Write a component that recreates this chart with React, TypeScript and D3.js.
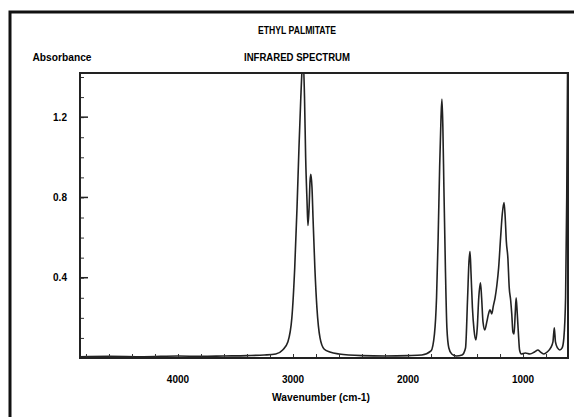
import React, { useEffect, useRef } from "react";
import * as d3 from "d3";

// wavenumber (cm-1), high -> low
const wavenumbers = [
  4850, 4600, 4300, 4000, 3800, 3600, 3400, 3250, 3150, 3090, 3045, 3010, 2985, 2965, 2948, 2932,
  2920, 2912, 2900, 2890, 2878, 2870, 2860, 2852, 2845, 2835, 2826, 2810, 2792, 2765, 2730, 2680,
  2600, 2400, 2200, 2000, 1880, 1800, 1770, 1752, 1738, 1725, 1713, 1705, 1697, 1688, 1675, 1662,
  1645, 1620, 1580, 1530, 1500, 1482, 1470, 1461, 1452, 1440, 1426, 1410, 1398, 1385, 1370, 1360,
  1348, 1332, 1315, 1300, 1287, 1272, 1258, 1243, 1228, 1212, 1195, 1180, 1165, 1155, 1145, 1132,
  1120, 1108, 1098, 1088, 1078, 1068, 1060, 1050, 1040, 1030, 1015, 980, 940, 900, 870, 850,
  820, 790, 760, 740, 728, 718, 700, 680, 660, 645, 630, 620, 612,
];
const absorbance = [
  0.006, 0.008, 0.006, 0.01, 0.008, 0.01, 0.012, 0.015, 0.02, 0.04, 0.08, 0.2, 0.45, 0.75, 1.05, 1.3,
  1.45, 1.5, 1.3, 1.0, 0.78, 0.66, 0.75, 0.88, 0.915, 0.85, 0.7, 0.45, 0.25, 0.1, 0.045, 0.03,
  0.02, 0.012, 0.01, 0.012, 0.015, 0.035, 0.12, 0.3, 0.6, 0.95, 1.2, 1.29, 1.15, 0.85, 0.45, 0.15,
  0.05, 0.02, 0.01, 0.015, 0.05, 0.3, 0.48, 0.53, 0.42, 0.25, 0.14, 0.09, 0.15, 0.3, 0.375, 0.3,
  0.18, 0.14, 0.18, 0.22, 0.24, 0.22, 0.26, 0.3, 0.36, 0.45, 0.6, 0.72, 0.775, 0.7, 0.58, 0.5,
  0.35, 0.29, 0.22, 0.13, 0.12, 0.22, 0.3, 0.22, 0.12, 0.04, 0.02, 0.025, 0.02, 0.03, 0.04, 0.03,
  0.02, 0.03, 0.05, 0.08, 0.15, 0.08, 0.05, 0.04, 0.05, 0.1, 0.3, 0.8, 1.5,
];
const xTickLabels = [4000, 3000, 2000, 1000];
const yTickLabels = [0.4, 0.8, 1.2];

const FONT = "'Liberation Sans', Arial, sans-serif";

export default function App() {
  const ref = useRef<SVGSVGElement>(null);

  useEffect(() => {
    const width = 574;
    const height = 417;
    const margin = { top: 73, right: 6, bottom: 59, left: 80 };
    const innerWidth = width - margin.left - margin.right;
    const innerHeight = height - margin.top - margin.bottom;

    const svg = d3.select(ref.current!);
    svg.selectAll("*").remove();
    svg.attr("width", width).attr("height", height);

    // outer frame of the scanned page (left + top only)
    svg.append("path")
      .attr("d", `M10,417 V12 H574`)
      .attr("fill", "none")
      .attr("stroke", "#111")
      .attr("stroke-width", 3);

    const data = wavenumbers.map((w, i) => ({ w, a: absorbance[i] }));

    const xScale = d3.scaleLinear().domain([4852, 609]).range([0, innerWidth]);
    const yScale = d3.scaleLinear().domain([0, 1.42]).range([innerHeight, 0]);

    const inner = svg.append("g")
      .attr("transform", `translate(${margin.left}, ${margin.top})`);

    inner.append("clipPath").attr("id", "plot-clip")
      .append("rect").attr("width", innerWidth).attr("height", innerHeight);

    const line = d3.line<{ w: number; a: number }>()
      .x(d => xScale(d.w))
      .y(d => yScale(d.a))
      .curve(d3.curveMonotoneX);

    inner.append("path")
      .datum(data)
      .attr("clip-path", "url(#plot-clip)")
      .attr("fill", "none")
      .attr("stroke", "#222")
      .attr("stroke-width", 1.6)
      .attr("d", line);

    // bottom axis: minor ticks every 200 pointing inward, labels every 1000
    const xAxis = inner.append("g")
      .attr("transform", `translate(0, ${innerHeight})`)
      .call(
        d3.axisBottom(xScale)
          .tickValues(d3.range(4800, 600, -200))
          .tickSize(-4)
          .tickFormat(() => "")
      );
    xAxis.select(".domain").remove();
    xAxis.selectAll("line").attr("stroke", "#333");

    inner.selectAll(".xlab")
      .data(xTickLabels)
      .enter()
      .append("text")
      .attr("class", "xlab")
      .attr("x", d => xScale(d))
      .attr("y", innerHeight + 25)
      .attr("text-anchor", "middle")
      .style("font-family", FONT)
      .style("font-size", "10px")
      .style("font-weight", "bold")
      .text(d => `${d}`);

    // left axis: minor ticks every 0.1, majors at 0.4 steps
    const yAxis = inner.append("g")
      .call(
        d3.axisLeft(yScale)
          .tickValues(d3.range(0.1, 1.42, 0.1))
          .tickSize(-4)
          .tickFormat(() => "")
      );
    yAxis.select(".domain").remove();
    yAxis.selectAll("line").attr("stroke", "#333");

    inner.selectAll(".ymaj")
      .data(yTickLabels)
      .enter()
      .append("line")
      .attr("class", "ymaj")
      .attr("x1", 0)
      .attr("x2", 8)
      .attr("y1", d => yScale(d))
      .attr("y2", d => yScale(d))
      .attr("stroke", "#222")
      .attr("stroke-width", 1.5);

    inner.selectAll(".ylab")
      .data(yTickLabels)
      .enter()
      .append("text")
      .attr("class", "ylab")
      .attr("x", -20)
      .attr("y", d => yScale(d) + 3.5)
      .attr("text-anchor", "middle")
      .style("font-family", FONT)
      .style("font-size", "10px")
      .style("font-weight", "bold")
      .text(d => d.toFixed(1));

    // plot box
    inner.append("rect")
      .attr("width", innerWidth)
      .attr("height", innerHeight)
      .attr("fill", "none")
      .attr("stroke", "#222")
      .attr("stroke-width", 2);

    const label = (x: number, y: number, len: number, txt: string) =>
      svg.append("text").attr("x", x).attr("y", y).attr("text-anchor", "middle")
        .attr("textLength", len).attr("lengthAdjust", "spacingAndGlyphs")
        .style("font-family", FONT).style("font-size", "10px").style("font-weight", "bold")
        .text(txt);

    label(297, 34, 78, "ETHYL PALMITATE");
    label(297, 61, 106, "INFRARED SPECTRUM");
    label(62, 61, 59, "Absorbance");
    label(321, 401, 98, "Wavenumber (cm-1)");
  }, []);

  return (
    <svg ref={ref} style={{ position: "absolute", left: 0, top: 0, background: "#fff" }} />
  );
}
